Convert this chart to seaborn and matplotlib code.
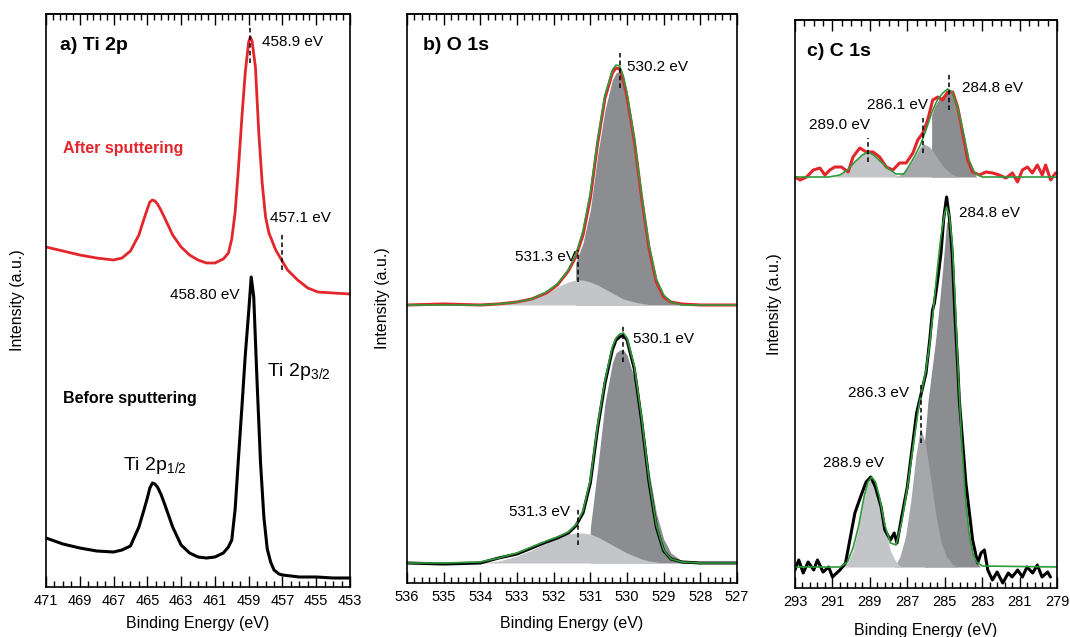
import numpy as np
import seaborn as sns
import matplotlib.pyplot as plt
from matplotlib.ticker import FixedLocator, NullFormatter

sns.set_style("ticks")
plt.rcParams['font.family'] = ['Liberation Sans', 'DejaVu Sans']
plt.rcParams.update({'mathtext.default': 'regular', 'text.color': 'black',
                     'axes.labelcolor': 'black', 'xtick.color': 'black'})

RED = "#e3262b"
GREEN = "#2e9a3a"
LIGHT = "#c4c5c8"
MID = "#a6a7ab"
DARK = "#8c8d91"

# ---- a) Ti 2p ----
ti_ticks = [471, 469, 467, 465, 463, 461, 459, 457, 455, 453]
ti_e_after = [471, 470, 469, 468, 467, 466.5, 466, 465.5, 465.2, 465, 464.85, 464.7, 464.55,
              464.4, 464.2, 464, 463.5, 463, 462.5, 462, 461.5, 461, 460.5, 460.2, 460,
              459.8, 459.6, 459.4, 459.2, 459.0, 458.9, 458.8, 458.6, 458.4, 458.2, 458.0,
              457.8, 457.4, 457.05, 456.7, 456.1, 455.5, 454.9, 454, 453]
ti_after = [340, 336, 332, 329, 327, 329, 336, 352, 368, 378, 385, 387, 386,
            383, 377, 370, 352, 340, 332, 327, 324, 324, 328, 334, 348,
            375, 420, 470, 515, 545, 550, 546, 520, 454, 404, 370,
            354, 337, 327, 317, 307, 299, 295, 294, 293]
ti_e_before = [471, 470, 469, 468, 467, 466.5, 466, 465.5, 465.2, 465, 464.85, 464.7, 464.55,
               464.4, 464.2, 464, 463.5, 463, 462.5, 462, 461.5, 461, 460.5, 460.2, 460,
               459.8, 459.6, 459.4, 459.2, 459.0, 458.85, 458.7, 458.5, 458.3, 458.1, 457.9,
               457.7, 457.5, 457.2, 457, 456, 455, 454, 453]
ti_before = [49, 43, 39, 36, 35, 37, 41, 60, 77, 89, 99, 104, 103,
             100, 93, 84, 60, 42, 34, 30, 29, 30, 34, 40, 47,
             78, 130, 180, 232, 275, 310, 290, 204, 125, 70, 38,
             25, 17, 13, 12, 10, 10, 9, 9]

# ---- b) O 1s ----
o_ticks = [536, 535, 534, 533, 532, 531, 530, 529, 528, 527]
o_e = [536, 535, 534, 533.5, 533, 532.6, 532.2, 531.9, 531.6, 531.4, 531.2, 531.0, 530.8,
       530.6, 530.4, 530.3, 530.2, 530.1, 530.0, 529.8, 529.6, 529.4, 529.2, 529.0,
       528.8, 528.5, 528, 527]
o_after = [278, 279, 278, 279, 281, 284, 290, 298, 312, 326, 348, 385, 440,
           485, 510, 515, 514, 503, 486, 442, 385, 335, 301, 286,
           281, 279, 278, 278]
o_after_fit = [278, 278, 278, 279, 281, 284, 291, 299, 313, 328, 352, 390, 443,
               488, 513, 518, 517, 507, 490, 445, 388, 338, 304, 288,
               281, 278, 278, 278]
o_after_base = 278
o_after_c1 = [0, 0, 0, 0, 3, 7, 13, 18, 23, 25, 25, 23, 20,
              16, 12, 10, 8, 6, 5, 3, 1.5, 0.5, 0, 0,
              0, 0, 0, 0]
o_after_c2 = [0, 0, 0, 0, 0, 0, 0, 0, 0, 42, 62, 95, 150,
              195, 225, 232, 234, 228, 212, 165, 105, 55, 25, 9,
              3, 0, 0, 0]
o_before = [20, 19, 20, 25, 29, 35, 41, 45, 50, 57, 70, 100, 155,
            200, 233, 243, 246, 248, 243, 214, 162, 101, 56, 32,
            24, 21, 20, 20]
o_before_fit = [20, 20, 21, 25, 30, 36, 42, 46, 51, 58, 72, 103, 158,
                203, 236, 245, 249, 250, 245, 217, 165, 104, 58, 33,
                24, 21, 20, 20]
o_before_base = 20
o_before_c1 = [0, 0, 0, 2, 7, 13, 20, 25, 29, 30, 30, 29, 26,
               22, 18, 16, 14, 12, 10, 7, 4, 2, 1, 0,
               0, 0, 0, 0]
o_before_c2 = [0, 0, 0, 0, 0, 0, 0, 0, 0, 0, 0, 35, 95,
               160, 200, 210, 213, 213, 208, 185, 145, 92, 50, 24,
               10, 2, 0, 0]
o_cut_after = 531.4
o_cut_before = 531.05

# ---- c) C 1s ----
c_ticks = [293, 291, 289, 287, 285, 283, 281, 279]
c_e_after = [293.0, 292.73, 292.38, 292.02, 291.67, 291.4, 291.14, 290.87, 290.52, 290.16,
             289.9, 289.54, 289.19, 288.83, 288.48, 288.12, 287.77, 287.41, 287.06, 286.7,
             286.44, 286.17, 285.91, 285.64, 285.37, 285.11, 284.84, 284.57, 284.31, 284.04,
             283.77, 283.51, 283.15, 282.8, 282.44, 282.09, 281.73, 281.38, 281.11, 280.85,
             280.58, 280.32, 280.05, 279.79, 279.61, 279.34, 279.08]
c_after = [411, 408, 411, 418, 420, 413, 418, 421, 421, 416,
           431, 440, 436, 436, 431, 421, 418, 425, 425, 435,
           448, 455, 468, 488, 491, 488, 496, 496, 481, 455,
           428, 416, 413, 416, 415, 413, 410, 415, 406, 418,
           421, 415, 423, 413, 423, 408, 415]
c_e_after_fit = [293, 291.2, 290.6, 290.2, 289.8, 289.4, 289.1, 288.8, 288.4, 288.0, 287.6,
                 287.2, 287.0, 286.6, 286.3, 286.0, 285.7, 285.4, 285.1, 284.85, 284.6,
                 284.3, 284.0, 283.7, 283.4, 283.0, 279]
c_after_fit = [411, 411, 413, 418, 426, 433, 436, 433, 426, 419, 414,
               414, 419, 432, 443, 458, 475, 488, 495, 499, 496,
               480, 455, 428, 415, 411, 411]
c_after_base = 411
c_after_c1_e = [291.0, 290.6, 290.2, 289.8, 289.4, 289.1, 288.8, 288.4, 288.0, 287.6, 287.2]
c_after_c1 = [0, 2, 7, 15, 22, 25, 22, 15, 7, 2, 0]
c_after_c2_e = [287.7, 287.4, 287.0, 286.6, 286.3, 286.1, 285.8, 285.5, 285.1, 284.7, 284.3]
c_after_c2 = [0, 2, 8, 20, 30, 33, 30, 22, 11, 4, 0]
c_after_c3_e = [285.7, 285.5, 285.3, 285.1, 284.9, 284.7, 284.5, 284.3, 284.1, 283.9, 283.7, 283.5, 283.3]
c_after_c3 = [62, 72, 78, 82, 85, 85, 80, 68, 50, 30, 15, 6, 0]

c_e_before = [293.0, 292.8, 292.56, 292.3, 292.0, 291.8, 291.5, 291.2, 291.0, 290.6,
              290.3, 290.0, 289.8, 289.5, 289.2, 288.95, 288.7, 288.4, 288.2, 287.9,
              287.7, 287.55, 287.3, 287.0, 286.8, 286.5, 286.25, 286.0, 285.8, 285.65,
              285.55, 285.35, 285.2, 285.05, 284.9, 284.75, 284.6, 284.45, 284.3, 284.22,
              283.87, 283.51, 283.24, 283.06, 282.88, 282.7, 282.45, 282.2, 281.9, 281.6,
              281.4, 281.1, 280.85, 280.6, 280.3, 280.05, 279.8, 279.5, 279.35]
c_before = [18, 28, 15, 26, 18, 28, 16, 21, 11, 18,
            25, 55, 75, 91, 106, 111, 101, 81, 58, 48,
            55, 45, 71, 101, 131, 175, 195, 215, 248, 278,
            285, 312, 335, 370, 391, 370, 335, 272, 220, 188,
            105, 48, 25, 35, 38, 18, 8, 16, 5, 15,
            11, 18, 11, 21, 15, 23, 11, 16, 11]
c_e_before_fit = [293, 290.6, 290.2, 289.9, 289.6, 289.3, 289.1, 288.9, 288.7, 288.5, 288.2,
                  287.9, 287.6, 287.3, 287.0, 286.7, 286.4, 286.2, 286.0, 285.8, 285.6,
                  285.4, 285.2, 285.0, 284.9, 284.75, 284.6, 284.45, 284.3, 284.1, 283.9,
                  283.7, 283.5, 283.3, 283.0, 279]
c_before_fit = [21, 21, 26, 40, 62, 92, 106, 111, 106, 92, 63,
                45, 43, 66, 100, 140, 180, 200, 218, 245, 280,
                318, 352, 375, 381, 372, 345, 290, 225, 148, 92,
                55, 35, 26, 22, 21]
c_before_base = 21
c_before_c1_e = [290.5, 290.2, 289.9, 289.6, 289.3, 289.1, 288.9, 288.7, 288.5, 288.2, 287.9, 287.6, 287.3]
c_before_c1 = [0, 4, 16, 40, 70, 85, 90, 85, 70, 40, 16, 5, 0]
c_before_c2_e = [287.7, 287.4, 287.1, 286.8, 286.55, 286.3, 286.05, 285.8, 285.5, 285.2, 284.9, 284.6, 284.3]
c_before_c2 = [0, 10, 30, 68, 110, 139, 125, 95, 55, 25, 10, 3, 0]
c_before_c3_e = [286.1, 285.9, 285.7, 285.5, 285.3, 285.1, 284.9, 284.75, 284.6, 284.45, 284.3,
                 284.1, 283.9, 283.7, 283.5, 283.3, 283.1]
c_before_c3 = [120, 165, 195, 225, 260, 300, 345, 345, 318, 262, 200,
               125, 70, 33, 14, 5, 0]

fig = plt.figure(figsize=(10.7, 6.37), dpi=100)
ax_a = fig.add_axes([46 / 1070, 50 / 637, 304 / 1070, 573 / 637])
ax_b = fig.add_axes([407 / 1070, 54 / 637, 330 / 1070, 569 / 637])
ax_c = fig.add_axes([795 / 1070, 49 / 637, 262 / 1070, 568 / 637])


def frame(ax, ticks, ylim, minor, top_minor, ylab_x, xlab_y):
    lo, hi = ticks[0], ticks[-1]
    ax.set_xlim(lo, hi)
    ax.set_ylim(*ylim)
    ax.set_yticks([])
    ax.xaxis.set_major_locator(FixedLocator(ticks))
    ax.xaxis.set_minor_locator(FixedLocator(np.arange(lo, hi - 0.01, -minor)))
    ax.tick_params(axis='x', which='both', direction='in', top=False, labelsize=10.5, pad=5)
    ax.tick_params(axis='x', which='major', length=8, width=1)
    ax.tick_params(axis='x', which='minor', length=4, width=1)
    sec = ax.secondary_xaxis('top')
    sec.xaxis.set_major_locator(FixedLocator(ticks))
    sec.xaxis.set_minor_locator(FixedLocator(np.arange(lo, hi - 0.01, -top_minor)))
    sec.xaxis.set_major_formatter(NullFormatter())
    sec.tick_params(axis='x', which='both', direction='in')
    sec.tick_params(axis='x', which='major', length=8, width=1)
    sec.tick_params(axis='x', which='minor', length=4, width=1)
    sec.spines['top'].set_linewidth(1.2)
    for s in ax.spines.values():
        s.set_linewidth(1.2)
        s.set_color('black')
    ax.set_xlabel("Binding Energy (eV)", fontsize=11.5)
    ax.set_ylabel("Intensity (a.u.)", fontsize=11.5)
    ax.xaxis.set_label_coords(0.5, xlab_y)
    ax.yaxis.set_label_coords(ylab_x, 0.5)


def line(ax, x, y, color, lw):
    sns.lineplot(x=x, y=y, ax=ax, color=color, lw=lw, sort=False, estimator=None)


def comp(ax, x, y, base, color, cut=None):
    x = np.asarray(x, float)
    y = np.asarray(y, float) + base
    if cut is not None:
        keep = x <= cut
        x, y = x[keep], y[keep]
    ax.fill_between(x, base, y, color=color, lw=0)


def dash(ax, e, h0, h1):
    ax.plot([e, e], [h0, h1], color='black', lw=1.1, ls=(0, (3, 2)))


# panel a
line(ax_a, ti_e_after, ti_after, RED, 2.0)
line(ax_a, ti_e_before, ti_before, 'black', 2.2)
frame(ax_a, ti_ticks, (0, 573), 0.5, 0.4, -0.069, -0.051)
ax_a.text(470.17, 542, "a) Ti 2p", fontsize=14, fontweight='bold', va='center')
ax_a.text(470.0, 438, "After sputtering", fontsize=11.5, fontweight='bold', color=RED, va='center')
ax_a.text(470.0, 188, "Before sputtering", fontsize=11.5, fontweight='bold', va='center')
ax_a.text(458.21, 545, "458.9 eV", fontsize=11, va='center')
dash(ax_a, 458.9, 524, 562)
ax_a.text(457.74, 369, "457.1 eV", fontsize=11, va='center')
dash(ax_a, 457.05, 317, 354)
ax_a.text(463.66, 292, "458.80 eV", fontsize=11, va='center')
ax_a.text(457.92, 215, "Ti 2p$_{3/2}$", fontsize=14, va='center')
ax_a.text(466.44, 122, "Ti 2p$_{1/2}$", fontsize=14, va='center')

# panel b
comp(ax_b, o_e, o_after_c2, o_after_base, DARK, o_cut_after)
comp(ax_b, o_e, o_after_c1, o_after_base, LIGHT)
line(ax_b, o_e, o_after, RED, 2.2)
line(ax_b, o_e, o_after_fit, GREEN, 1.2)
comp(ax_b, o_e, o_before_c2, o_before_base, DARK, o_cut_before)
comp(ax_b, o_e, o_before_c1, o_before_base, LIGHT)
line(ax_b, o_e, o_before, 'black', 2.2)
line(ax_b, o_e, o_before_fit, GREEN, 1.2)
frame(ax_b, o_ticks, (0, 569), 0.2, 0.2, -0.052, -0.058)
ax_b.text(535.56, 538, "b) O 1s", fontsize=14, fontweight='bold', va='center')
ax_b.text(530.0, 516, "530.2 eV", fontsize=11, va='center')
dash(ax_b, 530.2, 495, 530)
ax_b.text(531.4, 326, "531.3 eV", fontsize=11, va='center', ha='right')
dash(ax_b, 531.35, 301, 333)
ax_b.text(529.84, 244, "530.1 eV", fontsize=11, va='center')
dash(ax_b, 530.1, 221, 258)
ax_b.text(531.55, 71, "531.3 eV", fontsize=11, va='center', ha='right')
dash(ax_b, 531.35, 38, 75)

# panel c
comp(ax_c, c_after_c3_e, c_after_c3, c_after_base, DARK)
comp(ax_c, c_after_c2_e, c_after_c2, c_after_base, MID)
comp(ax_c, c_after_c1_e, c_after_c1, c_after_base, LIGHT)
line(ax_c, c_e_after, c_after, RED, 2.2)
line(ax_c, c_e_after_fit, c_after_fit, GREEN, 1.2)
comp(ax_c, c_before_c3_e, c_before_c3, c_before_base, DARK)
comp(ax_c, c_before_c2_e, c_before_c2, c_before_base, MID)
comp(ax_c, c_before_c1_e, c_before_c1, c_before_base, LIGHT)
line(ax_c, c_e_before, c_before, 'black', 2.2)
line(ax_c, c_e_before_fit, c_before_fit, GREEN, 1.2)
frame(ax_c, c_ticks, (0, 568), 0.4, 0.5, -0.05, -0.062)
ax_c.text(292.36, 536, "c) C 1s", fontsize=14, fontweight='bold', va='center')
ax_c.text(284.07, 500, "284.8 eV", fontsize=11, va='center')
dash(ax_c, 284.75, 478, 515)
ax_c.text(285.9, 483, "286.1 eV", fontsize=11, va='center', ha='right')
dash(ax_c, 286.15, 435, 470)
ax_c.text(292.25, 463, "289.0 eV", fontsize=11, va='center')
dash(ax_c, 289.1, 426, 450)
ax_c.text(284.23, 375, "284.8 eV", fontsize=11, va='center')
ax_c.text(290.17, 195, "286.3 eV", fontsize=11, va='center')
dash(ax_c, 286.25, 145, 203)
ax_c.text(291.5, 125, "288.9 eV", fontsize=11, va='center')

fig.savefig("out.png", dpi=100)
